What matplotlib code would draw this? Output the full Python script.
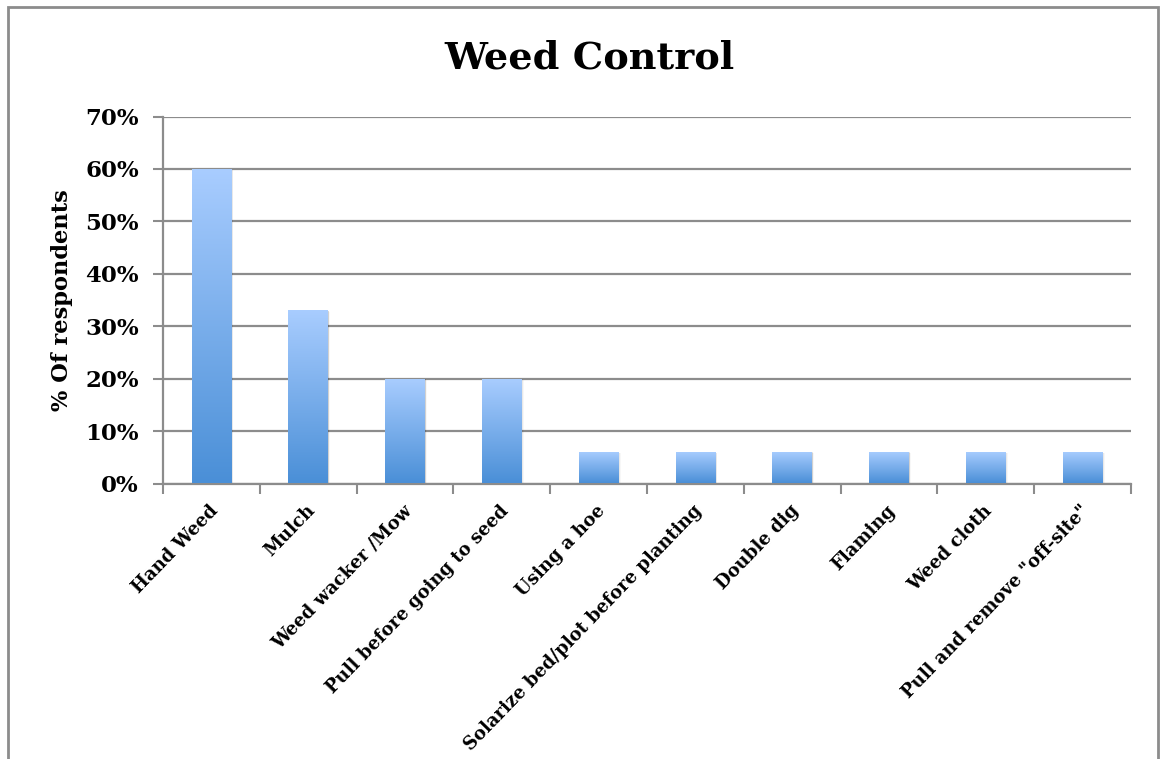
import numpy as np
import matplotlib
matplotlib.use("Agg")
import matplotlib.pyplot as plt
import matplotlib.transforms as mtransforms
from matplotlib.patches import Rectangle
from matplotlib.colors import LinearSegmentedColormap
from matplotlib.ticker import FixedLocator, FuncFormatter

categories = [
    "Hand Weed",
    "Mulch",
    "Weed wacker /Mow",
    "Pull before going to seed",
    "Using a hoe",
    "Solarize bed/plot before planting",
    "Double dig",
    "Flaming",
    "Weed cloth",
    'Pull and remove "off-site"',
]
shares = [60, 33, 20, 20, 6, 6, 6, 6, 6, 6]
y_ticks = [0, 10, 20, 30, 40, 50, 60, 70]

SERIF = ["DejaVu Serif"]
GRID = "#8c8c8c"

fig = plt.figure(figsize=(11.6, 7.59), dpi=100)
fig.patch.set_facecolor("white")

# outer chart frame
fig.add_artist(Rectangle((8 / 1160, -0.01), (1158 - 8) / 1160, 1 - 7 / 759 + 0.01,
                         transform=fig.transFigure, fill=False,
                         edgecolor=GRID, linewidth=2))

ax = fig.add_axes([163 / 1160, 1 - 483.5 / 759, (1131 - 163) / 1160, (483.5 - 116.5) / 759])
n = len(categories)
x = np.arange(n)

bars = ax.bar(x, shares, width=0.41, color="none", edgecolor="none", zorder=3)

grad = LinearSegmentedColormap.from_list("barfill", ["#4a8fd7", "#a9cdff"])
for b in bars:
    x0, w, h = b.get_x(), b.get_width(), b.get_height()
    # soft drop shadow
    for k, a in enumerate([0.10, 0.06, 0.03]):
        off = 0.012 * (k + 1)
        ax.add_patch(Rectangle((x0 + off * 0.6, 0), w, h - off * 6, facecolor="#000000",
                               alpha=a, edgecolor="none", zorder=2))
    g = np.linspace(0, 1, 256).reshape(-1, 1)
    im = ax.imshow(g, cmap=grad, origin="lower", aspect="auto",
                   extent=(x0, x0 + w, 0, h), zorder=3)
    im.set_clip_path(b)
ax.set_xlim(-0.5, n - 0.5)
ax.set_ylim(0, 70)

ax.yaxis.set_major_locator(FixedLocator(y_ticks))
ax.yaxis.set_major_formatter(FuncFormatter(lambda v, p: f"{int(v)}%"))
ax.grid(axis="y", color=GRID, linewidth=1.6, zorder=1)
ax.set_axisbelow(True)

ax.xaxis.set_major_locator(FixedLocator(x))
ax.set_xticklabels(categories, rotation=46, ha="right", va="top",
                   rotation_mode="anchor", fontfamily=SERIF, fontweight="bold", fontsize=13)
ax.xaxis.set_minor_locator(FixedLocator(np.arange(n + 1) - 0.5))
ax.tick_params(axis="x", which="major", length=0, pad=13)
ax.tick_params(axis="x", which="minor", length=7, width=1.5, color=GRID)
ax.tick_params(axis="y", length=7.5, width=1.5, color=GRID, pad=10)
for lab in ax.get_yticklabels():
    lab.set_fontfamily(SERIF)
    lab.set_fontweight("bold")
    lab.set_fontsize(16.5)
# nudge category labels so their ends sit just above each bar centre
shift = mtransforms.ScaledTranslation(-2 / 72, 0, fig.dpi_scale_trans)
for lab in ax.get_xticklabels():
    lab.set_transform(lab.get_transform() + shift)

for s in ["top", "right"]:
    ax.spines[s].set_visible(False)
for s in ["left", "bottom"]:
    ax.spines[s].set_color(GRID)
    ax.spines[s].set_linewidth(1.6)

ax.set_ylabel("% Of respondents", fontfamily=SERIF, fontweight="bold", fontsize=16.2, labelpad=9)
fig.text(590 / 1160, 1 - 58 / 759, "Weed Control", ha="center", va="center",
         fontfamily=SERIF, fontweight="bold", fontsize=27.5)

fig.savefig("out.png", dpi=100, facecolor="white")
